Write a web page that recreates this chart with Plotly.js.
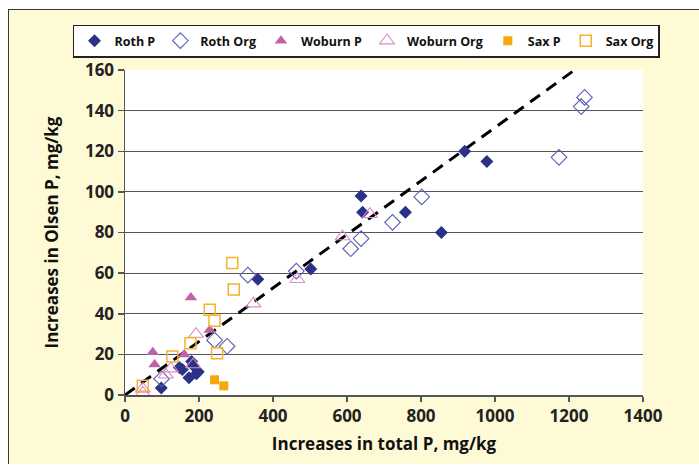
<!DOCTYPE html>
<html>
<head>
<meta charset="utf-8">
<script src="https://cdn.plot.ly/plotly-3.0.1.min.js"></script>
<style>
  html, body { margin: 0; padding: 0; background: #ffffff; }
  #wrap { position: absolute; left: 8px; top: 9px; width: 691px; height: 454px;
          border-left: 1.5px solid #3a3a3a; border-top: 1.5px solid #3a3a3a; }
  #chart { width: 691px; height: 454px; }
</style>
</head>
<body>
<div id="wrap"><div id="chart"></div></div>
<script>
// Data
const rothP_x   = [98, 147, 155, 173, 180, 184, 193, 198, 359, 502, 638, 642, 758, 855, 918, 978];
const rothP_y   = [3.5, 13.5, 12.5, 8.5, 16.5, 14.5, 10.5, 11.5, 57, 62, 98, 90, 90, 80, 120, 115];
const rothOrg_x = [99, 242, 276, 332, 463, 610, 638, 723, 802, 1173, 1233, 1242];
const rothOrg_y = [8, 27, 24, 59, 61, 72, 77, 85, 97.5, 117, 142, 146.5];
const wobP_x    = [75, 80, 160, 178, 229];
const wobP_y    = [21, 15, 20, 48, 32];
const wobOrg_x  = [48, 48, 110, 124, 184, 192, 347, 466, 588, 662];
const wobOrg_y  = [3, 1, 10, 13, 15, 30, 45, 57, 78, 89];
const saxP_x    = [242, 267];
const saxP_y    = [7.5, 4.5];
const saxOrg_x  = [48, 128, 177, 229, 242, 249, 290, 294];
const saxOrg_y  = [4.5, 19, 25.5, 42, 36.5, 20.5, 65, 52];
const line_x    = [0, 1215];
const line_y    = [0, 160];
const xTicks    = [0, 200, 400, 600, 800, 1000, 1200, 1400];
const yTicks    = [0, 20, 40, 60, 80, 100, 120, 140, 160];

const FONT = "'Open Sans', 'DejaVu Sans', sans-serif";

const traces = [
  { x: line_x, y: line_y, mode: 'lines', showlegend: false, hoverinfo: 'skip',
    line: { color: '#000000', width: 3, dash: '12px,8px' } },
  { name: 'Roth P', x: rothP_x, y: rothP_y, mode: 'markers', type: 'scatter',
    marker: { symbol: 'diamond', size: 10, color: '#2a3288', line: { width: 0 } } },
  { name: 'Roth Org', x: rothOrg_x, y: rothOrg_y, mode: 'markers', type: 'scatter',
    marker: { symbol: 'diamond-open', size: 12, color: '#5a5fb5', line: { width: 1.1 } } },
  { name: 'Woburn P', x: wobP_x, y: wobP_y, mode: 'markers', type: 'scatter',
    marker: { symbol: 'triangle-up', size: 11, color: '#c062a8', line: { width: 0 } } },
  { name: 'Woburn Org', x: wobOrg_x, y: wobOrg_y, mode: 'markers', type: 'scatter',
    marker: { symbol: 'triangle-up-open', size: 13, color: '#e08ac8', line: { width: 1.1 } } },
  { name: 'Sax P', x: saxP_x, y: saxP_y, mode: 'markers', type: 'scatter',
    marker: { symbol: 'square', size: 9, color: '#f4a80c', line: { width: 0 } } },
  { name: 'Sax Org', x: saxOrg_x, y: saxOrg_y, mode: 'markers', type: 'scatter',
    marker: { symbol: 'square-open', size: 11, color: '#f5b22a', line: { width: 1.5 } } }
];

const layout = {
  width: 691, height: 454,
  paper_bgcolor: '#fffad6',
  plot_bgcolor: '#ffffff',
  margin: { l: 116, r: 57, t: 60, b: 69, autoexpand: false },
  font: { family: FONT, color: '#1a1a1a', size: 16 },
  showlegend: true,
  legend: {
    orientation: 'h',
    x: -0.1004, xanchor: 'left', y: 1.14, yanchor: 'top',
    bgcolor: '#ffffff', bordercolor: '#222222', borderwidth: 1.5,
    font: { family: FONT, size: 12.5, color: '#111111', weight: 700 },
    itemwidth: 30, tracegroupgap: 0
  },
  xaxis: {
    range: [0, 1400], tickvals: xTicks, ticktext: xTicks.map(String),
    showgrid: false, zeroline: false,
    showline: true, linecolor: '#555555', linewidth: 1.5,
    ticks: 'outside', ticklen: 5, tickcolor: '#555555', tickwidth: 1.5,
    tickfont: { family: FONT, size: 17, color: '#222222', weight: 700 },
    title: { text: 'Increases in total P, mg/kg', standoff: 12,
             font: { family: FONT, size: 17, color: '#111111', weight: 700 } }
  },
  yaxis: {
    range: [0, 160], tickvals: yTicks, ticktext: yTicks.map(String),
    showgrid: true, gridcolor: '#555555', gridwidth: 1.2, zeroline: false,
    showline: true, linecolor: '#555555', linewidth: 1.5,
    ticks: 'outside', ticklen: 6, tickcolor: '#555555', tickwidth: 1.5,
    tickfont: { family: FONT, size: 17, color: '#222222', weight: 700 },
    title: { text: 'Increases in Olsen P, mg/kg', standoff: 22,
             font: { family: FONT, size: 17, color: '#111111', weight: 700 } }
  }
};

Plotly.newPlot('chart', traces, layout, { displayModeBar: false, staticPlot: true });
</script>
</body>
</html>
